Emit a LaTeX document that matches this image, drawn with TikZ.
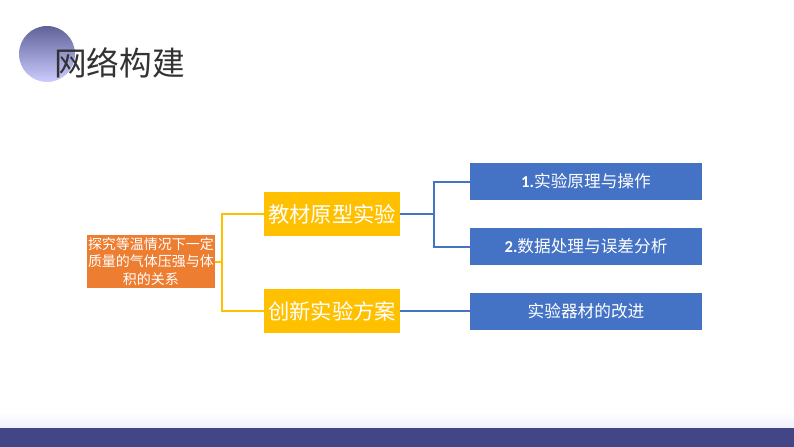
\documentclass[tikz,border=0pt]{standalone}
\usepackage{fontspec}
\usepackage{tikz}
\setmainfont{Noto Sans CJK SC}
\newfontfamily\cjksans{Noto Sans CJK SC}
\newfontfamily\numfont{Carlito}
\definecolor{rootorange}{RGB}{237,125,49}
\definecolor{midyellow}{RGB}{255,192,0}
\definecolor{leafblue}{RGB}{68,114,196}
\definecolor{barblue}{RGB}{67,70,134}

\begin{document}
\begin{tikzpicture}[x=0.75pt, y=-0.75pt,
    rootbox/.style={rectangle, fill=rootorange, text=white, align=center, minimum width=96pt, minimum height=39.75pt, inner sep=0pt, font=\fontsize{10.5}{13}\selectfont},
    midbox/.style={rectangle, fill=midyellow, text=white, minimum width=102pt, minimum height=33pt, inner sep=0pt, font=\fontsize{16}{18}\selectfont},
    leafbox/.style={rectangle, fill=leafblue, text=white, minimum width=174pt, minimum height=27.75pt, inner sep=0pt, font=\fontsize{12.5}{15}\selectfont},
    yline/.style={draw=midyellow, line width=1.5pt},
    bline/.style={draw=leafblue, line width=1.5pt}]
        \useasboundingbox (0,0) rectangle (794,447);

        % Header
        \shade[top color=barblue!85, bottom color=blue!20!white] (47,54) circle (21pt);
        \node[anchor=west, inner sep=0pt, text=black!80, font=\cjksans\fontsize{24.5}{29}\selectfont] (title) at (54,63) {网络构建};

        % Footer
        \shade[top color=white, bottom color=blue!6] (0,412) rectangle (794,428);
        \fill[barblue] (0,428) rectangle (794,447);

        % Boxes
        \node[rootbox] (root) at (151,261.5) {探究等温情况下一定\\质量的气体压强与体\\积的关系};
        \node[midbox] (book) at (332,214) {教材原型实验};
        \node[midbox] (new) at (332,311) {创新实验方案};
        \node[leafbox] (principle) at (586,181.5) {{\numfont\bfseries 1.}实验原理与操作};
        \node[leafbox] (data) at (586,246.5) {{\numfont\bfseries 2.}数据处理与误差分析};
        \node[leafbox] (tools) at (586,311) {实验器材的改进};

        % Connectors
        \coordinate (fork1) at (222,261.5);
        \coordinate (fork2) at (434,214);
        \draw[yline] (root.east) -- (fork1);
        \draw[yline] (fork1) |- (book.west);
        \draw[yline] (fork1) |- (new.west);
        \draw[bline] (book.east) -- (fork2);
        \draw[bline] (fork2) |- (principle.west);
        \draw[bline] (fork2) |- (data.west);
        \draw[bline] (new.east) -- (tools.west);
    \end{tikzpicture}
\end{document}
